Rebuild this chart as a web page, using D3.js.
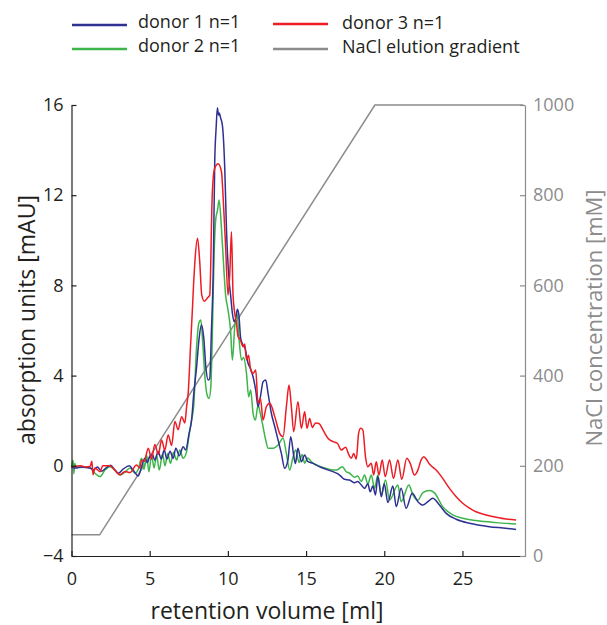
<!DOCTYPE html>
<html>
<head>
<meta charset="utf-8">
<script src="https://cdn.jsdelivr.net/npm/d3@7"></script>
<style>
  html, body { margin: 0; padding: 0; background: #fff; }
  svg { display: block; font-family: "Open Sans", sans-serif; }
</style>
</head>
<body>
<svg id="chart" width="607" height="625"></svg>
<script>
// ---------------- data ----------------
const donor1X = [0,0.3,0.6,0.9,1.2,1.39,1.65,1.93,2.25,2.5,2.78,2.99,3.3,3.69,3.95,4.27,4.48,4.69,4.85,5.01,5.17,5.33,5.54,5.74,5.93,6.1,6.3,6.5,6.67,6.9,7.14,7.3,7.52,7.68,7.82,8.0,8.16,8.31,8.46,8.59,8.74,8.84,8.95,9.06,9.16,9.25,9.33,9.4,9.45,9.53,9.65,9.8,9.91,10.08,10.17,10.29,10.4,10.5,10.61,10.7,10.82,10.97,11.1,11.29,11.44,11.61,11.78,11.93,12.08,12.25,12.42,12.57,12.78,13.0,13.21,13.42,13.63,13.84,14.02,14.2,14.32,14.48,14.7,14.91,15.1,15.44,15.87,16.3,16.72,17.04,17.25,17.46,17.78,18.1,18.3,18.53,18.74,18.95,19.1,19.27,19.44,19.59,19.81,20.0,20.23,20.55,20.77,21.08,21.4,21.79,22.15,22.47,22.79,23.1,23.53,23.96,24.6,25.45,26.72,27.6,28.43];
const donor1Y = [-0.05,-0.1,-0.05,-0.08,-0.1,-0.19,-0.05,-0.24,-0.07,0.02,-0.19,-0.33,-0.15,0.0,-0.2,-0.45,-0.04,0.33,0.15,0.43,0.5,0.25,0.63,0.3,0.7,0.3,0.65,0.33,0.78,0.45,0.85,0.7,1.44,2.03,3.21,4.39,5.65,6.24,5.65,4.39,3.8,3.87,6.02,8.5,13.5,15.0,15.88,15.55,15.65,15.44,15.1,13.2,10.5,8.2,7.6,6.76,6.39,6.54,6.94,6.7,5.65,5.36,5.2,4.55,4.32,3.95,3.36,2.62,3.06,3.73,3.8,3.21,2.33,1.73,1.14,0.55,-0.11,0.26,1.29,0.5,0.1,0.78,0.18,0.48,0.2,0.11,-0.04,-0.16,-0.26,-0.36,-0.48,-0.6,-0.63,-0.75,-0.7,-0.85,-1.0,-0.8,-1.15,-0.9,-1.29,-0.48,-1.37,-0.8,-1.63,-0.9,-1.81,-1.0,-1.88,-1.22,-1.59,-1.74,-1.59,-1.44,-1.74,-2.11,-2.37,-2.55,-2.7,-2.76,-2.82];

const donor2X = [0,0.1,0.15,0.2,0.3,0.6,0.9,1.2,1.5,1.82,2.14,2.46,2.78,3.1,3.42,3.74,4.06,4.27,4.48,4.64,4.8,4.95,5.12,5.28,5.44,5.61,5.82,5.98,6.15,6.33,6.52,6.72,6.93,7.14,7.36,7.52,7.68,7.82,8.0,8.14,8.27,8.38,8.53,8.67,8.8,8.91,8.99,9.06,9.12,9.23,9.33,9.44,9.59,9.74,9.85,10.01,10.17,10.29,10.44,10.59,10.72,10.87,11.0,11.19,11.33,11.46,11.61,11.76,11.93,12.08,12.25,12.42,12.57,12.9,13.21,13.53,13.74,13.95,14.17,14.34,14.55,14.75,14.91,15.1,15.34,15.66,16.08,16.51,16.94,17.32,17.55,17.78,18.1,18.3,18.53,18.74,18.95,19.17,19.38,19.59,19.81,20.08,20.34,20.87,21.08,21.57,21.83,22.15,22.47,22.89,23.21,23.74,24.38,25.02,25.87,27.15,28.43];
const donor2Y = [-0.05,0.25,-0.35,0.1,-0.05,-0.07,-0.05,-0.1,-0.33,-0.48,-0.19,-0.04,-0.2,-0.41,-0.28,-0.1,-0.33,-0.15,0.33,-0.15,0.48,-0.26,0.48,-0.1,0.48,-0.19,0.52,0.0,0.55,0.11,0.6,0.26,0.7,0.33,0.63,1.37,2.03,2.7,5.28,6.32,6.47,5.58,3.95,3.14,2.99,3.51,5.28,7.6,9.35,10.97,11.3,11.79,10.53,8.76,7.6,6.91,6.02,4.69,6.17,6.76,5.58,4.69,4.8,4.1,3.06,3.36,2.33,2.03,2.7,2.3,1.73,1.14,0.78,0.78,0.92,1.22,0.55,-0.19,0.4,0.7,0.15,0.5,0.11,0.35,0.18,0.04,-0.07,-0.16,-0.19,-0.04,-0.25,-0.33,-0.51,-0.45,-0.7,-0.41,-0.81,-0.41,-1.0,-0.41,-1.29,-0.63,-1.52,-0.85,-1.59,-0.85,-1.29,-1.52,-1.19,-1.1,-1.2,-1.81,-2.18,-2.33,-2.43,-2.52,-2.58];

const donor3X = [0,0.3,0.6,0.9,1.2,1.3,1.38,1.5,1.82,2.0,2.46,2.78,3.1,3.42,3.74,4.16,4.37,4.48,4.65,4.91,5.12,5.33,5.55,5.76,5.97,6.18,6.4,6.61,6.82,7.04,7.25,7.36,7.46,7.61,7.74,7.82,7.89,8.06,8.2,8.33,8.5,8.7,8.84,9.0,9.06,9.16,9.38,9.59,9.69,9.85,10.01,10.12,10.23,10.33,10.44,10.55,10.65,10.8,10.97,11.08,11.19,11.32,11.46,11.62,11.78,11.93,12.08,12.25,12.46,12.68,13.0,13.31,13.53,13.74,13.91,14.06,14.21,14.48,14.7,14.91,15.06,15.23,15.4,15.6,15.82,16.08,16.4,16.72,17.0,17.25,17.53,17.74,17.9,18.04,18.21,18.36,18.49,18.63,18.8,18.95,19.17,19.32,19.49,19.66,19.87,20.06,20.34,20.59,20.87,21.12,21.44,21.66,21.93,22.15,22.36,22.53,22.72,22.89,23.32,23.74,24.17,24.6,25.02,25.45,25.87,26.51,27.15,27.79,28.43];
const donor3Y = [-0.05,-0.02,0.0,-0.05,-0.02,0.2,-0.4,-0.1,-0.26,0.0,0.0,-0.2,-0.4,-0.25,-0.3,0.03,-0.1,0.26,0.2,0.78,0.3,0.95,0.5,1.14,0.7,1.37,0.9,1.96,1.6,2.18,1.9,2.62,3.21,5.28,7.06,8.24,9.05,10.09,9.05,7.57,7.3,7.45,7.57,12.0,12.75,13.2,13.4,13.04,12.0,9.79,7.57,8.5,10.38,7.57,6.76,6.32,5.73,5.58,5.28,5.4,4.69,4.9,4.25,4.1,4.25,2.77,3.0,2.03,2.62,2.77,2.18,1.44,1.29,2.62,3.58,2.62,1.51,2.84,1.66,2.4,1.66,2.1,1.7,1.9,1.88,1.59,1.22,1.07,1.0,0.7,0.82,0.48,0.33,0.55,0.3,1.44,1.66,1.59,0.4,-0.04,0.11,-0.41,0.18,-0.41,0.26,-0.48,0.26,-0.56,0.26,-0.6,0.33,0.11,-0.41,-0.19,0.26,0.4,0.26,0.08,-0.19,-0.56,-1.0,-1.37,-1.66,-1.88,-2.04,-2.18,-2.28,-2.36,-2.4];

const naclX = [0, 1.8, 19.4, 28.9];
const naclY = [47, 47, 1000, 1000];

const xTicks = [0, 5, 10, 15, 20, 25];
const yLeftTicks = [-4, 0, 4, 8, 12, 16];
const yRightTicks = [0, 200, 400, 600, 800, 1000];

const seriesNames = ["donor 1 n=1", "donor 2 n=1", "donor 3 n=1", "NaCl elution gradient"];
const seriesColors = ["#2e3192", "#3db54a", "#ed1c24", "#8c8c8c"];

// ---------------- chart ----------------
const svg = d3.select("#chart");
const x = d3.scaleLinear().domain([0, 29]).range([71.5, 525]);
const yL = d3.scaleLinear().domain([-4, 16]).range([556, 105]);
const yR = d3.scaleLinear().domain([0, 1000]).range([556, 105]);

const zip = (xs, ys) => xs.map((v, i) => [v, ys[i]]);

const lineL = d3.line().x(d => x(d[0])).y(d => yL(d[1])).curve(d3.curveMonotoneX);
const lineR = d3.line().x(d => x(d[0])).y(d => yR(d[1]));

// gradient
svg.append("path").datum(zip(naclX, naclY))
  .attr("d", lineR).attr("fill", "none")
  .attr("stroke", seriesColors[3]).attr("stroke-width", 1.5);

const plotSeries = [
  {xs: donor2X, ys: donor2Y, c: seriesColors[1]},
  {xs: donor1X, ys: donor1Y, c: seriesColors[0]},
  {xs: donor3X, ys: donor3Y, c: seriesColors[2]}
];
plotSeries.forEach(s => {
  svg.append("path").datum(zip(s.xs, s.ys))
    .attr("d", lineL).attr("fill", "none")
    .attr("stroke", s.c).attr("stroke-width", 1.5)
    .attr("stroke-linejoin", "round");
});

// axes
const axL = svg.append("g").attr("transform", `translate(${x(0)},0)`)
  .call(d3.axisLeft(yL).tickValues(yLeftTicks).tickSizeInner(-5).tickSizeOuter(0).tickPadding(8).tickFormat(d3.format("d")));
axL.select(".domain").attr("stroke", "#231f20").attr("stroke-width", 1.2);
axL.selectAll(".tick line").attr("stroke", "#231f20").attr("stroke-width", 1.2);
axL.selectAll(".tick text").attr("fill", "#231f20").style("font-size", "18px").style("font-family", "Open Sans");

const axB = svg.append("g").attr("transform", `translate(0,${yL(-4)})`)
  .call(d3.axisBottom(x).tickValues(xTicks).tickSizeInner(-5).tickSizeOuter(0).tickPadding(16));
axB.select(".domain").attr("stroke", "#231f20").attr("stroke-width", 1.2);
axB.selectAll(".tick line").attr("stroke", "#231f20").attr("stroke-width", 1.2);
axB.selectAll(".tick text").attr("fill", "#231f20").style("font-size", "18px").style("font-family", "Open Sans");

const axR = svg.append("g").attr("transform", `translate(${x(29)},0)`)
  .call(d3.axisRight(yR).tickValues(yRightTicks).tickSizeInner(-5).tickSizeOuter(0).tickPadding(8).tickFormat(d3.format("d")));
axR.select(".domain").attr("stroke", "#8c8c8c").attr("stroke-width", 1.2);
axR.selectAll(".tick line").attr("stroke", "#8c8c8c").attr("stroke-width", 1.2);
axR.selectAll(".tick text").attr("fill", "#8c8c8c").style("font-size", "18px").style("font-family", "Open Sans");

// axis titles
svg.append("text").attr("transform", "translate(35,320) rotate(-90)")
  .attr("text-anchor", "middle").attr("fill", "#231f20")
  .style("font-size", "23px").text("absorption units [mAU]");
svg.append("text").attr("transform", "translate(602,318) rotate(-90)")
  .attr("text-anchor", "middle").attr("fill", "#8c8c8c")
  .style("font-size", "22px").text("NaCl concentration [mM]");
svg.append("text").attr("x", 267).attr("y", 619)
  .attr("text-anchor", "middle").attr("fill", "#231f20")
  .style("font-size", "23px").text("retention volume [ml]");

// legend
const legendItems = [
  {name: seriesNames[0], c: seriesColors[0], lx: 72, ly: 25, ty: 28},
  {name: seriesNames[1], c: seriesColors[1], lx: 72, ly: 49, ty: 52},
  {name: seriesNames[2], c: seriesColors[2], lx: 273, ly: 24, ty: 29},
  {name: seriesNames[3], c: seriesColors[3], lx: 273, ly: 49, ty: 53}
];
const lg = svg.append("g");
legendItems.forEach(it => {
  lg.append("line").attr("x1", it.lx).attr("x2", it.lx + 55)
    .attr("y1", it.ly).attr("y2", it.ly)
    .attr("stroke", it.c).attr("stroke-width", 2.5);
  lg.append("text").attr("x", it.lx + (it.lx < 200 ? 66 : 69)).attr("y", it.ty)
    .attr("fill", "#231f20").style("font-size", "18px").text(it.name);
});
</script>
</body>
</html>
